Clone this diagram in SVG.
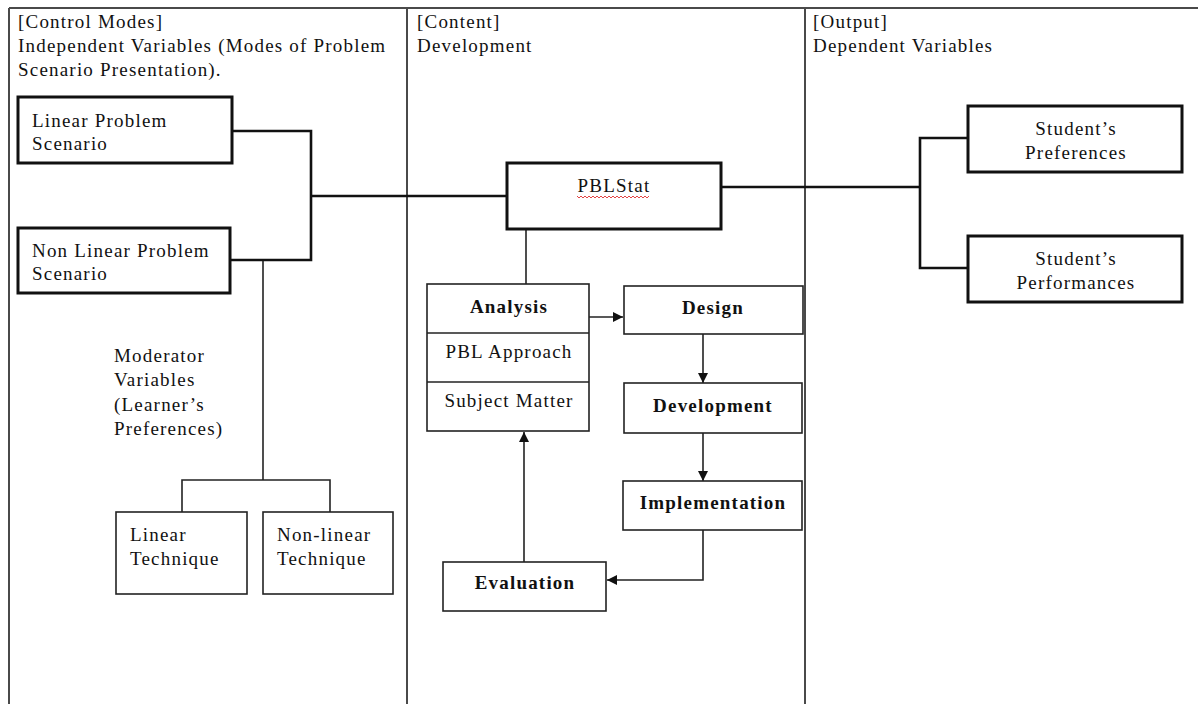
<svg xmlns="http://www.w3.org/2000/svg" width="1198" height="704" viewBox="0 0 1198 704">
<defs>
<style>
text{font-family:"Liberation Serif","Times New Roman",serif;font-size:19px;letter-spacing:1.2px;fill:#111}
.b{font-weight:bold}
.m{text-anchor:middle}
.frame{stroke:#4a4a4a;stroke-width:2;fill:none}
.thick{fill:#fff;stroke:#111;stroke-width:3}
.thin{fill:#fff;stroke:#222;stroke-width:1.6}
.cthick{fill:none;stroke:#111;stroke-width:2.6}
.cthin{fill:none;stroke:#222;stroke-width:1.6}
</style>
<marker id="ah" viewBox="0 0 10 10" refX="10" refY="5" markerWidth="10" markerHeight="10" markerUnits="userSpaceOnUse" orient="auto">
<path d="M0,0 L10,5 L0,10 Z" fill="#111"/>
</marker>
</defs>
<rect width="1198" height="704" fill="#fff"/>
<g id="frame">
<line class="frame" x1="9" y1="8" x2="1198" y2="8"/>
<line class="frame" x1="9" y1="8" x2="9" y2="704"/>
<line class="frame" x1="407" y1="8" x2="407" y2="704"/>
<line class="frame" x1="805" y1="8" x2="805" y2="704"/>
</g>
<g id="headers">
<text x="18" y="28">[Control Modes]</text>
<text x="18" y="52">Independent Variables (Modes of Problem</text>
<text x="18" y="76">Scenario Presentation).</text>
<text x="417" y="28">[Content]</text>
<text x="417" y="52">Development</text>
<text x="813" y="28">[Output]</text>
<text x="813" y="52">Dependent Variables</text>
</g>
<g id="connectors">
<polyline class="cthick" points="232,131 311,131 311,260 230,260"/>
<line class="cthick" x1="311" y1="196" x2="507" y2="196"/>
<line class="cthick" x1="721" y1="187" x2="920" y2="187"/>
<polyline class="cthick" points="968,138 920,138 920,268 968,268"/>
<line class="cthin" x1="263" y1="261" x2="263" y2="480"/>
<polyline class="cthin" points="182,512 182,480 330,480 330,512"/>
<line class="cthin" x1="526" y1="229" x2="526" y2="284"/>
<line class="cthin" x1="589" y1="317" x2="623" y2="317" marker-end="url(#ah)"/>
<line class="cthin" x1="703" y1="334" x2="703" y2="383" marker-end="url(#ah)"/>
<line class="cthin" x1="703" y1="433" x2="703" y2="481" marker-end="url(#ah)"/>
<polyline class="cthin" points="703,530 703,580 607,580" marker-end="url(#ah)"/>
<line class="cthin" x1="524" y1="562" x2="524" y2="432" marker-end="url(#ah)"/>
</g>
<g id="linear-problem">
<rect class="thick" x="18" y="97" width="214" height="66"/>
<text x="32" y="127">Linear Problem</text>
<text x="32" y="150">Scenario</text>
</g>
<g id="nonlinear-problem">
<rect class="thick" x="18" y="228" width="212" height="65"/>
<text x="32" y="257">Non Linear Problem</text>
<text x="32" y="280">Scenario</text>
</g>
<g id="moderator">
<text x="114" y="362">Moderator</text>
<text x="114" y="386">Variables</text>
<text x="114" y="411">(Learner’s</text>
<text x="114" y="435">Preferences)</text>
</g>
<g id="linear-technique">
<rect class="thin" x="116" y="512" width="131" height="82"/>
<text x="130" y="541">Linear</text>
<text x="130" y="565">Technique</text>
</g>
<g id="nonlinear-technique">
<rect class="thin" x="263" y="512" width="130" height="82"/>
<text x="277" y="541">Non-linear</text>
<text x="277" y="565">Technique</text>
</g>
<g id="pblstat">
<rect class="thick" x="507" y="163" width="214" height="66"/>
<text class="m" x="614" y="192">PBLStat</text>
<path d="M577,196 l2,2 l2,-2 l2,2 l2,-2 l2,2 l2,-2 l2,2 l2,-2 l2,2 l2,-2 l2,2 l2,-2 l2,2 l2,-2 l2,2 l2,-2 l2,2 l2,-2 l2,2 l2,-2 l2,2 l2,-2 l2,2 l2,-2 l2,2 l2,-2 l2,2 l2,-2 l2,2 l2,-2 l2,2 l2,-2 l2,2 l2,-2 l2,2 l2,-2" fill="none" stroke="#e03030" stroke-width="0.9"/>
</g>
<g id="analysis">
<rect class="thin" x="427" y="284" width="162" height="147"/>
<line class="cthin" x1="427" y1="333" x2="589" y2="333"/>
<line class="cthin" x1="427" y1="382" x2="589" y2="382"/>
<text class="m b" x="509" y="313">Analysis</text>
<text class="m" x="509" y="358">PBL Approach</text>
<text class="m" x="509" y="407">Subject Matter</text>
</g>
<g id="design">
<rect class="thin" x="624" y="286" width="179" height="48"/>
<text class="m b" x="713" y="314">Design</text>
</g>
<g id="development">
<rect class="thin" x="624" y="383" width="178" height="50"/>
<text class="m b" x="713" y="412">Development</text>
</g>
<g id="implementation">
<rect class="thin" x="623" y="481" width="179" height="49"/>
<text class="m b" x="713" y="509">Implementation</text>
</g>
<g id="evaluation">
<rect class="thin" x="443" y="562" width="163" height="49"/>
<text class="m b" x="525" y="589">Evaluation</text>
</g>
<g id="preferences">
<rect class="thick" x="968" y="106" width="214" height="66"/>
<text class="m" x="1076" y="135">Student’s</text>
<text class="m" x="1076" y="159">Preferences</text>
</g>
<g id="performances">
<rect class="thick" x="968" y="236" width="214" height="66"/>
<text class="m" x="1076" y="265">Student’s</text>
<text class="m" x="1076" y="289">Performances</text>
</g>
</svg>
